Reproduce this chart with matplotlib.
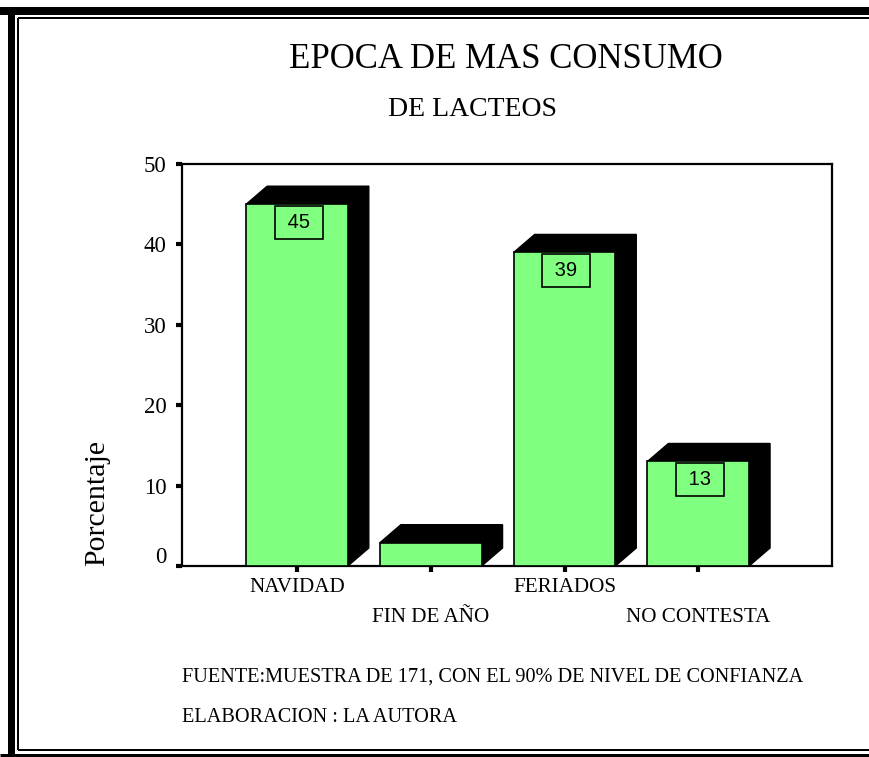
import matplotlib
matplotlib.use("Agg")
import matplotlib.pyplot as plt
from matplotlib.patches import Polygon
from matplotlib.lines import Line2D
from matplotlib.transforms import ScaledTranslation

categorias = ["NAVIDAD", "FIN DE AÑO", "FERIADOS", "NO CONTESTA"]
porcentajes = [45, 2.9, 39, 13]
etiquetas = ["45", None, "39", "13"]
ticks_y = [0, 10, 20, 30, 40, 50]

W, H = 870, 757
verde = "#80FF80"
serif = "Liberation Serif"

fig = plt.figure(figsize=(W / 100, H / 100), dpi=100)


def fx(px):
    return px / W


def fy(py):
    return 1 - py / H


# marco doble alrededor de la figura
for x0, y0, x1, y1, lw in [
    (0, 11, W, 11, 8), (11.5, 7, 11.5, H, 7), (0, 755.5, W, 755.5, 5),
    (18.5, 18, W, 18, 2), (18.5, 18, 18.5, 750, 2), (18.5, 750, W, 750, 2),
]:
    fig.add_artist(Line2D([fx(x0), fx(x1)], [fy(y0), fy(y1)], color="black",
                          lw=lw * 0.72, solid_capstyle="butt",
                          transform=fig.transFigure))

ax = fig.add_axes([fx(182), fy(566), fx(832) - fx(182), fy(164) - fy(566)])

x = list(range(len(categorias)))
ancho = 0.76
dx = 21 / 134   # profundidad en unidades x
dy = 18 / 8.04  # profundidad en unidades y

for xi, h in zip(x, porcentajes):
    xl, xr = xi - ancho / 2, xi + ancho / 2
    ax.add_patch(Polygon([(xr, 0), (xr, h), (xr + dx, h + dy), (xr + dx, dy)],
                         closed=True, fc="black", ec="black", lw=1, zorder=2))
    ax.add_patch(Polygon([(xl, h), (xl + dx, h + dy), (xr + dx, h + dy), (xr, h)],
                         closed=True, fc="black", ec="black", lw=1, zorder=2))

ax.bar(x, porcentajes, width=ancho, color=verde, edgecolor="black",
       linewidth=1.2, zorder=3)

for xi, h, et in zip(x, porcentajes, etiquetas):
    if et is None:
        continue
    ax.annotate(f" {et} ", (xi + 0.012, h), xytext=(0, -13), textcoords="offset points",
                ha="center", va="center", fontsize=14.5, family="Liberation Sans",
                bbox=dict(boxstyle="square,pad=0.36", fc=verde, ec="black", lw=1.2),
                zorder=4)

ax.set_xlim(-0.86, 4.0)
ax.set_ylim(0, 50)
ax.set_yticks(ticks_y)
ax.set_yticklabels([str(t) for t in ticks_y], family=serif, fontsize=16.5)
ax.set_xticks(x)
ax.set_xticklabels([])
ax.tick_params(axis="both", direction="out", length=4, width=3, color="black", pad=7)
for s in ax.spines.values():
    s.set_linewidth(1.6)

# el cero va un poco más arriba
lbl0 = ax.get_yticklabels()[0]
lbl0.set_transform(lbl0.get_transform() + ScaledTranslation(0, 0.11, fig.dpi_scale_trans))

# etiquetas de categoría escalonadas
for i, (xi, cat) in enumerate(zip(x, categorias)):
    off = -21 if i % 2 == 0 else -52
    ax.text(xi, off / 402, cat, transform=ax.get_xaxis_transform(), ha="center",
            va="center", family=serif, fontsize=15.2)

fig.text(fx(506), fy(60), "EPOCA DE MAS CONSUMO", ha="center", va="center",
         family=serif, fontsize=25)
fig.text(fx(473), fy(110), "DE LACTEOS", ha="center", va="center",
         family=serif, fontsize=20)
fig.text(fx(97), fy(503), "Porcentaje", rotation=90, ha="center", va="center",
         family=serif, fontsize=21.5)
fig.text(fx(182), fy(677), "FUENTE:MUESTRA DE 171, CON EL 90% DE NIVEL DE CONFIANZA",
         ha="left", va="center", family=serif, fontsize=14.6)
fig.text(fx(182), fy(717), "ELABORACION : LA AUTORA", ha="left", va="center",
         family=serif, fontsize=14.6)

fig.savefig("out.png", dpi=100)
